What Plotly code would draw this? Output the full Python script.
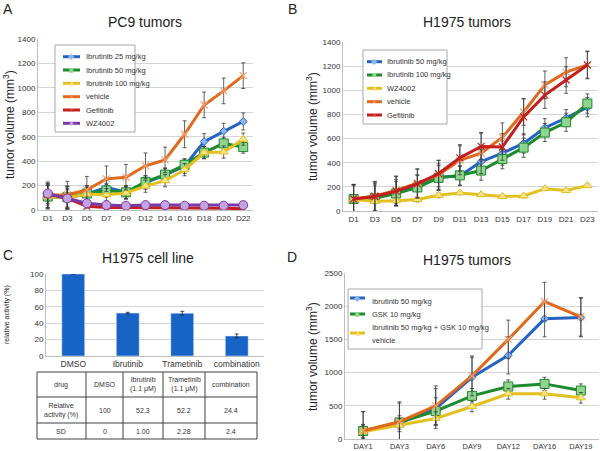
import plotly.graph_objects as go

# ---------------- data ----------------
# Panel A: PC9 tumors
a_days = ["D1", "D3", "D5", "D7", "D9", "D12", "D14", "D16", "D18", "D20", "D22"]
a_ibr25 = [110, 100, 130, 185, 145, 225, 285, 360, 560, 645, 725]
a_ibr25_err = [100, 95, 70, 60, 55, 55, 60, 60, 65, 65, 70]
a_ibr50 = [110, 105, 135, 160, 145, 230, 290, 370, 470, 545, 515]
a_ibr50_err = [90, 90, 60, 55, 50, 50, 50, 45, 50, 50, 50]
a_ibr100 = [110, 100, 130, 125, 140, 195, 240, 330, 470, 475, 580]
a_ibr100_err = [90, 90, 55, 50, 50, 50, 50, 50, 50, 50, 50]
a_vehicle = [120, 125, 165, 255, 268, 362, 410, 620, 860, 975, 1100]
a_vehicle_err = [110, 110, 110, 105, 105, 105, 105, 110, 105, 105, 105]
a_gef = [130, 95, 30, 20, 20, 20, 15, 15, 15, 15, 10]
a_gef_err = [90, 80, 15, 10, 10, 10, 10, 10, 10, 10, 10]
a_wz = [135, 95, 55, 40, 35, 40, 40, 35, 35, 35, 40]
a_wz_err = [80, 70, 15, 10, 10, 10, 10, 10, 10, 10, 10]
a_names = ["Ibrutinib 25 mg/kg", "Ibrutinib 50 mg/kg", "Ibrutinib 100 mg/kg", "vehicle", "Gefitinib", "WZ4002"]

# Panel B: H1975 tumors
b_days = ["D1", "D3", "D5", "D7", "D9", "D11", "D13", "D15", "D17", "D19", "D21", "D23"]
b_ibr50 = [100, 110, 150, 200, 280, 290, 410, 480, 560, 690, 770, 860]
b_ibr50_err = [120, 120, 110, 100, 110, 80, 100, 100, 80, 75, 70, 80]
b_ibr100 = [100, 105, 145, 195, 275, 295, 335, 430, 525, 650, 735, 890]
b_ibr100_err = [110, 110, 100, 100, 100, 80, 80, 80, 80, 75, 75, 80]
b_wz = [95, 80, 85, 95, 130, 150, 135, 120, 125, 185, 170, 210]
b_wz_err = [20, 20, 20, 20, 20, 15, 15, 15, 15, 15, 15, 15]
b_vehicle = [100, 125, 170, 230, 300, 420, 480, 610, 820, 1045, 1150, 1210]
b_vehicle_err = [120, 120, 120, 120, 120, 120, 170, 120, 110, 115, 120, 110]
b_gef = [100, 120, 165, 225, 310, 440, 535, 530, 780, 960, 1085, 1210]
b_gef_err = [120, 120, 120, 120, 110, 110, 110, 110, 150, 110, 110, 115]
b_names = ["Ibrutinib 50 mg/kg", "Ibrutinib 100 mg/kg", "WZ4002", "vehicle", "Gefitinib"]

# Panel C: H1975 cell line
c_drugs = ["DMSO", "Ibrutinib", "Trametinib", "combination"]
c_activity = [100, 52.3, 52.2, 24.4]
c_sd = [0, 1.00, 2.28, 2.4]
c_table_header = ["drug", "DMSO", "Ibrutinib<br>(1.1 μM)", "Trametinib<br>(1.1 μM)", "combination"]
c_table_activity = ["Relative<br>activity (%)", "100", "52.3", "52.2", "24.4"]
c_table_sd = ["SD", "0", "1.00", "2.28", "2.4"]

# Panel D: H1975 tumors (combination)
d_days = ["DAY1", "DAY3", "DAY6", "DAY9", "DAY12", "DAY16", "DAY19"]
d_ibr50 = [120, 240, 460, 930, 1260, 1810, 1830]
d_ibr50_err = [290, 300, 300, 300, 280, 270, 290]
d_gsk = [120, 250, 420, 650, 790, 830, 730]
d_gsk_err = [100, 100, 200, 110, 100, 100, 100]
d_combo = [110, 210, 310, 490, 680, 680, 620]
d_combo_err = [100, 100, 100, 80, 80, 80, 80]
d_vehicle = [125, 260, 500, 950, 1500, 2070, 1840]
d_vehicle_err = [290, 300, 300, 300, 290, 290, 290]
d_names = ["Ibrutinib 50 mg/kg", "GSK 10 mg/kg", "Ibrutinib 50 mg/kg + GSK 10 mg/kg", "vehicle"]

# ---------------- styles ----------------
FONT = "Liberation Sans, Arial, sans-serif"
BLUE, BLUE_F = "#2563c2", "#8db6ea"
GREEN, GREEN_F = "#1d8a2c", "#8fd48f"
YELLOW, YELLOW_F = "#e3c020", "#f4e58c"
ORANGE, ORANGE_F = "#e0691e", "#f0a070"
RED = "#c41f1f"
PURPLE, PURPLE_F = "#7a3aa6", "#c4a3e0"

STY = {
    "blue": dict(color=BLUE, glyph="◆", gcol=BLUE_F,
                 marker=dict(symbol="diamond", size=6, color=BLUE_F, line=dict(color=BLUE, width=1))),
    "green": dict(color=GREEN, glyph="■", gcol=GREEN_F,
                  marker=dict(symbol="square", size=9, color=GREEN_F, line=dict(color=GREEN, width=1))),
    "yellow": dict(color=YELLOW, glyph="▲", gcol=YELLOW_F,
                   marker=dict(symbol="triangle-up", size=8, color=YELLOW_F, line=dict(color=YELLOW, width=1))),
    "orange": dict(color=ORANGE, glyph="×", gcol=ORANGE_F,
                   marker=dict(symbol="x-thin-open", size=7, color=ORANGE_F, line=dict(color=ORANGE_F, width=1.2))),
    "red": dict(color=RED, glyph="×", gcol="#e06060",
                marker=dict(symbol="x-thin-open", size=7, color=RED, line=dict(color="#e06060", width=1.2))),
    "purple": dict(color=PURPLE, glyph="●", gcol=PURPLE_F,
                   marker=dict(symbol="circle", size=9, color=PURPLE_F, line=dict(color=PURPLE, width=1))),
}

fig = go.Figure()


def add_line(x, y, err, name, sty, xa, ya):
    s = STY[sty]
    fig.add_trace(go.Scatter(
        x=x, y=y, name=name, mode="lines+markers", showlegend=False,
        line=dict(color=s["color"], width=3),
        marker=s["marker"],
        error_y=dict(type="data", array=err, visible=True, color="#3a3a3a", thickness=0.8, width=2),
        xaxis=xa, yaxis=ya,
    ))


# Panel A
a_series = [(a_ibr25, a_ibr25_err, "blue"), (a_ibr50, a_ibr50_err, "green"), (a_ibr100, a_ibr100_err, "yellow"),
            (a_vehicle, a_vehicle_err, "orange"), (a_gef, a_gef_err, "red"), (a_wz, a_wz_err, "purple")]
for (vals, err, sty), nm in zip(a_series, a_names):
    add_line(a_days, vals, err, nm, sty, "x", "y")

# Panel B
b_series = [(b_ibr50, b_ibr50_err, "blue"), (b_ibr100, b_ibr100_err, "green"), (b_wz, b_wz_err, "yellow"),
            (b_vehicle, b_vehicle_err, "orange"), (b_gef, b_gef_err, "red")]
for (vals, err, sty), nm in zip(b_series, b_names):
    add_line(b_days, vals, err, nm, sty, "x2", "y2")

# Panel C bars
fig.add_trace(go.Bar(
    x=c_drugs, y=c_activity, marker=dict(color="#1763c6"), width=0.42,
    error_y=dict(type="data", array=c_sd, visible=True, color="#222222", thickness=0.8, width=2),
    xaxis="x3", yaxis="y3", showlegend=False,
))

# Panel D
d_series = [(d_ibr50, d_ibr50_err, "blue"), (d_gsk, d_gsk_err, "green"), (d_combo, d_combo_err, "yellow"),
            (d_vehicle, d_vehicle_err, "orange")]
for (vals, err, sty), nm in zip(d_series, d_names):
    add_line(d_days, vals, err, nm, sty, "x4", "y4")

# ---------------- axes ----------------
tickfont = dict(family=FONT, size=8, color="#333333")


def xax(domain, anchor, rng, size=8):
    return dict(domain=domain, anchor=anchor, range=rng, type="category", automargin=False,
                showgrid=False, showline=True, linecolor="#bfbfbf", linewidth=1,
                ticks="", tickfont=dict(family=FONT, size=size, color="#333333"),
                zeroline=False, fixedrange=True)


def yax(domain, anchor, rng, dtick):
    return dict(domain=domain, anchor=anchor, range=rng, dtick=dtick, automargin=False,
                showgrid=True, gridcolor="#d4d4d4", gridwidth=1,
                showline=True, linecolor="#bfbfbf", linewidth=1,
                ticks="", tickfont=tickfont, zeroline=False, fixedrange=True)


fig.update_layout(
    width=600, height=451, autosize=False,
    margin=dict(l=0, r=0, t=0, b=0, pad=0),
    paper_bgcolor="white", plot_bgcolor="white",
    font=dict(family=FONT, color="#222222"),
    showlegend=False,
    xaxis=xax([38 / 600, 253 / 600], "y", [-0.5, 10.5]),
    yaxis=yax([1 - 210 / 451, 1 - 39 / 451], "x", [0, 1400], 200),
    xaxis2=xax([343 / 600, 598 / 600], "y2", [-0.5, 11.5]),
    yaxis2=yax([1 - 211 / 451, 1 - 42 / 451], "x2", [0, 1400], 200),
    xaxis3=xax([46 / 600, 264 / 600], "y3", [-0.5, 3.5], 8.5),
    yaxis3=yax([1 - 356 / 451, 1 - 274 / 451], "x3", [0, 100], 20),
    xaxis4=xax([345 / 600, 599 / 600], "y4", [-0.5, 6.5], 7.5),
    yaxis4=yax([1 - 439 / 451, 1 - 273 / 451], "x4", [0, 2500], 500),
)


# ---------------- titles / labels ----------------
def px(x):
    return x / 600


def py(y):
    return 1 - y / 451


def ann(text, x, y, size, angle=0, color="#222222", xanchor="center"):
    fig.add_annotation(text=text, x=px(x), y=py(y), xref="paper", yref="paper",
                       showarrow=False, textangle=angle, xanchor=xanchor, yanchor="middle",
                       font=dict(family=FONT, size=size, color=color))


ann("PC9 tumors", 145, 22, 14)
ann("H1975 tumors", 467, 22, 14)
ann("H1975 cell line", 148, 258, 14)
ann("H1975 tumors", 467, 260, 14)
ann("A", 8, 9, 14)
ann("B", 292, 9, 14)
ann("C", 8, 255, 14)
ann("D", 292, 257, 14)
ann("tumor volume (mm<sup>3</sup>)", 9, 125, 12, -90)
ann("tumor volume (mm<sup>3</sup>)", 312, 127, 12, -90)
ann("tumor volume (mm<sup>3</sup>)", 312, 357, 12, -90)
ann("relative activity (%)", 7, 315, 7, -90)


# ---------------- legends (drawn as boxes with swatches) ----------------
def legend_box(box, names, styles, ys, sw_x, txt_x, sw_ys=None):
    x0, y0, x1, y1 = box
    fig.add_shape(type="rect", xref="paper", yref="paper", x0=px(x0), x1=px(x1), y0=py(y1), y1=py(y0),
                  line=dict(color="#a8a8a8", width=1), fillcolor="white", layer="above")
    sw_ys = sw_ys or ys
    for nm, sty, ty, sy in zip(names, styles, ys, sw_ys):
        ann(nm, txt_x, ty, 7.5, color="#333333", xanchor="left")
        if sy is None:
            continue
        s = STY[sty]
        fig.add_shape(type="line", xref="paper", yref="paper", x0=px(sw_x[0]), x1=px(sw_x[1]),
                      y0=py(sy), y1=py(sy), line=dict(color=s["color"], width=3), layer="above")
        ann(s["glyph"], (sw_x[0] + sw_x[1]) / 2, sy, 8, color=s["gcol"])


legend_box((55, 45, 135, 132), a_names, ["blue", "green", "yellow", "orange", "red", "purple"],
           [56.7, 70, 83.3, 96.7, 110, 123.3], (63, 80), 84)
legend_box((363, 50, 447, 124), b_names, ["blue", "green", "yellow", "orange", "red"],
           [61.7, 75, 88.3, 101.7, 115], (367, 382), 385)
legend_box((348, 289, 482, 349), d_names, ["blue", "green", "yellow", "orange"],
           [301, 314, 327, 340], (350, 365), 370, sw_ys=[298, 314, 333, None])

# ---------------- table under panel C (grid + real text) ----------------
col_edges = [37, 86, 123, 163, 205, 257]
row_edges = [372, 397, 423, 439]
for cx in col_edges:
    fig.add_shape(type="line", xref="paper", yref="paper", x0=px(cx), x1=px(cx),
                  y0=py(row_edges[0]), y1=py(row_edges[-1]), line=dict(color="#404040", width=1))
for ry in row_edges:
    fig.add_shape(type="line", xref="paper", yref="paper", x0=px(col_edges[0]), x1=px(col_edges[-1]),
                  y0=py(ry), y1=py(ry), line=dict(color="#404040", width=1))
for r, row in enumerate([c_table_header, c_table_activity, c_table_sd]):
    cy = (row_edges[r] + row_edges[r + 1]) / 2
    for c, txt in enumerate(row):
        cx = (col_edges[c] + col_edges[c + 1]) / 2
        ann(txt, cx, cy, 7, color="#333333")

fig.write_html("out.html",
               config={"displayModeBar": False},
               post_script="document.body.style.margin='0';document.body.style.padding='0';"
                           "document.body.style.overflow='hidden';")
